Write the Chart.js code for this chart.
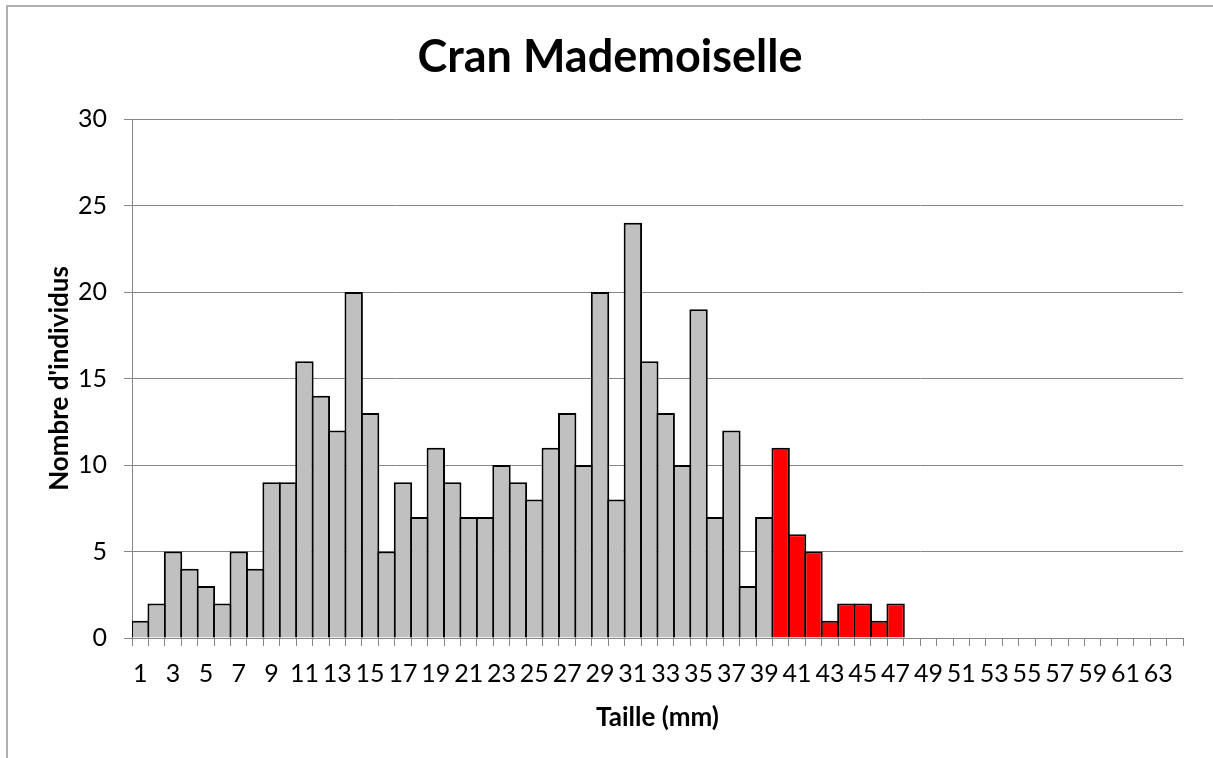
<!DOCTYPE html>
<html>
<head>
<meta charset="utf-8">
<script src="https://cdn.jsdelivr.net/npm/chart.js@4.4.0/dist/chart.umd.min.js"></script>
<style>
  html, body { margin: 0; padding: 0; background: #fff; overflow: hidden; }
  #wrap { position: relative; width: 1213px; height: 758px; overflow: hidden; }
  #frame { position: absolute; left: 6px; top: 5px; width: 1300px; height: 900px; border-left: 2px solid #b0b0b0; border-top: 2px solid #b0b0b0; pointer-events: none; }
  canvas { position: absolute; left: 0; top: 0; }
</style>
</head>
<body>
<div id="wrap">
  <canvas id="c" width="1213" height="758"></canvas>
  <div id="frame"></div>
</div>
<script>
// Categories: size classes (mm)
const categories = [];
for (let i = 1; i <= 64; i++) categories.push(String(i));

// Number of individuals per size class
const counts = [
  1, 2, 5, 4, 3, 2, 5, 4, 9, 9,
  16, 14, 12, 20, 13, 5, 9, 7, 11, 9,
  7, 7, 10, 9, 8, 11, 13, 10, 20, 8,
  24, 16, 13, 10, 19, 7, 12, 3, 7, 11,
  6, 5, 1, 2, 2, 1, 2, 0, 0, 0,
  0, 0, 0, 0, 0, 0, 0, 0, 0, 0,
  0, 0, 0, 0
];

// Size classes from this value on are highlighted in red
const highlightFrom = 40;

const yTicks = [0, 5, 10, 15, 20, 25, 30];

const GRAY = '#c0c0c0', RED = '#ff0000';
const barColors = categories.map(c => Number(c) >= highlightFrom ? RED : GRAY);

new Chart(document.getElementById('c'), {
  type: 'bar',
  data: {
    labels: categories,
    datasets: [{
      data: counts,
      backgroundColor: barColors,
      borderColor: '#000',
      borderWidth: 2,
      barPercentage: 1.12,
      categoryPercentage: 1.0
    }]
  },
  options: {
    responsive: false,
    animation: false,
    events: [],
    layout: { padding: { left: 37, right: 30, top: 0, bottom: 0 } },
    plugins: {
      legend: { display: false },
      tooltip: { enabled: false },
      title: {
        display: true,
        text: 'Cran Mademoiselle',
        color: '#000',
        font: { family: 'Lato', size: 45, weight: 'bold', lineHeight: 1.2 },
        padding: { top: 30, bottom: 35 }
      }
    },
    scales: {
      x: {
        grid: {
          display: true,
          offset: true,
          drawOnChartArea: false,
          drawTicks: true,
          tickLength: 8,
          color: '#868686',
          lineWidth: 1
        },
        border: { display: true, color: '#868686', width: 1 },
        ticks: {
          autoSkip: false,
          maxRotation: 0,
          minRotation: 0,
          padding: 13,
          color: '#000',
          font: { family: 'Lato', size: 25 },
          callback: function(val, idx) {
            const lab = this.getLabelForValue(val);
            return (Number(lab) % 2 === 1) ? lab : '';
          }
        },
        title: {
          display: true,
          text: 'Taille (mm)',
          color: '#000',
          font: { family: 'Lato', size: 26, weight: 'bold', lineHeight: 1.2 },
          padding: { top: 0, bottom: 25 }
        },
        afterFit: (axis) => { axis.height = 120; }
      },
      y: {
        min: 0,
        max: 30,
        afterBuildTicks: (axis) => { axis.ticks = yTicks.map(v => ({ value: v })); },
        grid: {
          color: '#868686',
          lineWidth: 1,
          drawTicks: true,
          tickLength: 8
        },
        border: { display: true, color: '#868686', width: 1 },
        ticks: {
          padding: 17,
          color: '#000',
          font: { family: 'Lato', size: 25 }
        },
        title: {
          display: true,
          text: "Nombre d'individus",
          color: '#000',
          font: { family: 'Lato', size: 26, weight: 'bold', lineHeight: 1.2 },
          padding: { top: 7, bottom: 0 }
        },
        afterFit: (axis) => { axis.width = 95; }
      }
    }
  }
});
</script>
</body>
</html>
